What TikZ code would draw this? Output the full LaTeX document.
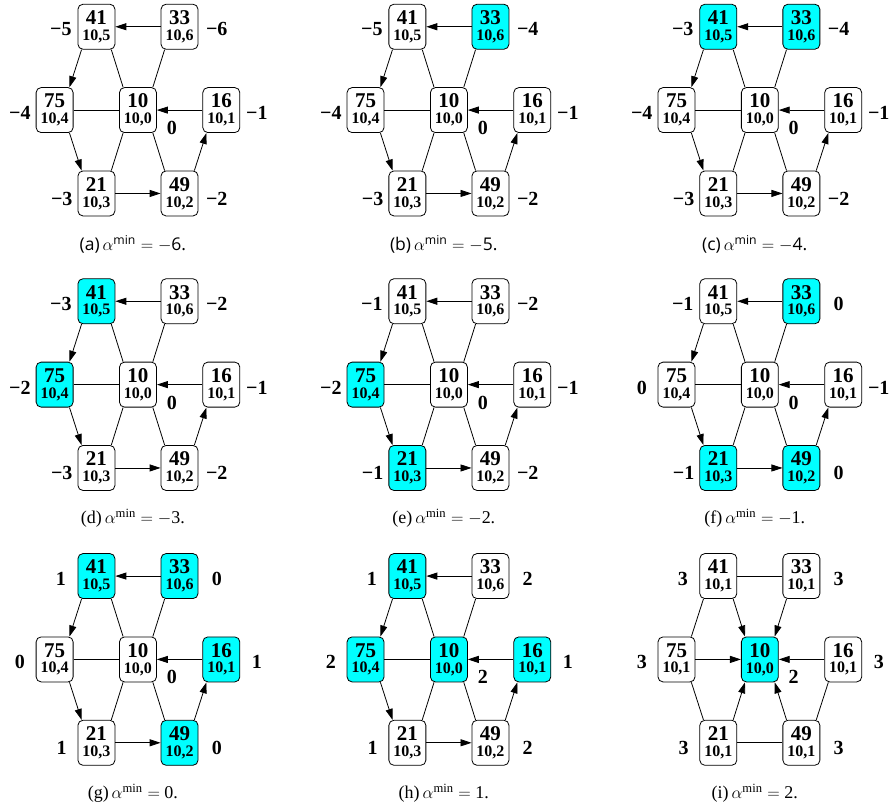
\documentclass[tikz,border=0pt]{standalone}
\usepackage{amsmath}
\usepackage{fontspec}
\newfontfamily\nodefont{Liberation Serif}
\newfontfamily\capsans{Open Sans}
\usepackage{tikz}
\usetikzlibrary{arrows.meta}
\definecolor{hexcyan}{RGB}{0,255,255}

\tikzset{
 hexbox/.style={draw,rounded corners=5pt,minimum width=37pt,minimum height=45pt,inner sep=0pt,
  align=center,line width=0.8pt,font=\nodefont\bfseries\fontsize{16}{15.7}\selectfont},
 vlab/.style={inner sep=0pt,font=\nodefont\bfseries\fontsize{20}{20}\selectfont},
 link/.style={line width=0.8pt},
 flow/.style={link,-{Triangle[length=11pt,width=7pt]}},
 capsf/.style={inner sep=0pt,font=\capsans\fontsize{17.5}{17.5}\selectfont},
 caprm/.style={inner sep=0pt,font=\nodefont\fontsize{18}{18}\selectfont},
 % hexagon places
 at41/.style={shift={(-1.46,2.93)}}, at33/.style={shift={(1.46,2.93)}},
 at75/.style={shift={(-2.93,0)}}, at10/.style={}, at16/.style={shift={(2.93,0)}},
 at21/.style={shift={(-1.46,-2.93)}}, at49/.style={shift={(1.46,-2.93)}},
 % value labels
 lb41/.style={shift={(-2.71,2.84)}}, lb33/.style={shift={(2.77,2.84)}},
 lb75/.style={shift={(-4.15,-0.10)}}, lb10/.style={shift={(1.19,-0.63)}}, lb16/.style={shift={(4.18,-0.10)}},
 lb21/.style={shift={(-2.68,-3.11)}}, lb49/.style={shift={(2.77,-3.11)}},
}

\newcommand{\hexnodes}[1]{%
 \foreach \n/\s/\v/\c in {#1}{
  \node[hexbox,fill=\c,at\n] (n\n) at (0,0) {{\fontsize{21}{15.7}\selectfont\n}\\10,\s};
  \node[vlab,lb\n] (v\n) at (0,0) {\v};
 }}
\newcommand{\hexedges}{%
 \draw[flow] (n33) -- (n41);
 \draw[flow] (n41.-123) -- (n75.57);
 \draw[flow] (n75.-57) -- (n21.123);
 \draw[flow] (n21) -- (n49);
 \draw[flow] (n49.57) -- (n16.-123);
 \draw[flow] (n16) -- (n10);
 \draw[link] (n41.-57) -- (n10.123);
 \draw[link] (n33.-123) -- (n10.57);
 \draw[link] (n75) -- (n10);
 \draw[link] (n21.57) -- (n10.-123);
 \draw[link] (n49.123) -- (n10.-57);
}

\begin{document}
\begin{tikzpicture}
\useasboundingbox (0,0) rectangle (31.25,-28.30);
% ---------- panel (a)
\begin{scope}[shift={(4.85,-3.87)}]
\hexnodes{41/5/−5/white,33/6/−6/white,75/4/−4/white,10/0/0/white,16/1/−1/white,21/3/−3/white,49/2/−2/white}
\hexedges
\node[capsf] (capa) at (-0.18,-4.71) {(a)\,$\alpha^{\text{min}}=-$6.};
\end{scope}
% ---------- panel (b)
\begin{scope}[shift={(15.78,-3.87)}]
\hexnodes{41/5/−5/white,33/6/−4/hexcyan,75/4/−4/white,10/0/0/white,16/1/−1/white,21/3/−3/white,49/2/−2/white}
\hexedges
\node[capsf] (capb) at (-0.18,-4.71) {(b)\,$\alpha^{\text{min}}=-$5.};
\end{scope}
% ---------- panel (c)
\begin{scope}[shift={(26.71,-3.87)}]
\hexnodes{41/5/−3/hexcyan,33/6/−4/hexcyan,75/4/−4/white,10/0/0/white,16/1/−1/white,21/3/−3/white,49/2/−2/white}
\hexedges
\node[capsf] (capc) at (-0.18,-4.71) {(c)\,$\alpha^{\text{min}}=-$4.};
\end{scope}
% ---------- panel (d)
\begin{scope}[shift={(4.85,-13.52)}]
\hexnodes{41/5/−3/hexcyan,33/6/−2/white,75/4/−2/hexcyan,10/0/0/white,16/1/−1/white,21/3/−3/white,49/2/−2/white}
\hexedges
\node[caprm] (capd) at (-0.18,-4.71) {(d)\,$\alpha^{\text{min}}=-$3.};
\end{scope}
% ---------- panel (e)
\begin{scope}[shift={(15.78,-13.52)}]
\hexnodes{41/5/−1/white,33/6/−2/white,75/4/−2/hexcyan,10/0/0/white,16/1/−1/white,21/3/−1/hexcyan,49/2/−2/white}
\hexedges
\node[caprm] (cape) at (-0.18,-4.71) {(e)\,$\alpha^{\text{min}}=-$2.};
\end{scope}
% ---------- panel (f)
\begin{scope}[shift={(26.71,-13.52)}]
\hexnodes{41/5/−1/white,33/6/0/hexcyan,75/4/0/white,10/0/0/white,16/1/−1/white,21/3/−1/hexcyan,49/2/0/hexcyan}
\hexedges
\node[caprm] (capf) at (-0.18,-4.71) {(f)\,$\alpha^{\text{min}}=-$1.};
\end{scope}
% ---------- panel (g)
\begin{scope}[shift={(4.85,-23.18)}]
\hexnodes{41/5/1/hexcyan,33/6/0/hexcyan,75/4/0/white,10/0/0/white,16/1/1/hexcyan,21/3/1/white,49/2/0/hexcyan}
\hexedges
\node[caprm] (capg) at (-0.18,-4.71) {(g)\,$\alpha^{\text{min}}=$ 0.};
\end{scope}
% ---------- panel (h)
\begin{scope}[shift={(15.78,-23.18)}]
\hexnodes{41/5/1/hexcyan,33/6/2/white,75/4/2/hexcyan,10/0/2/hexcyan,16/1/1/hexcyan,21/3/1/white,49/2/2/white}
\hexedges
\node[caprm] (caph) at (-0.18,-4.71) {(h)\,$\alpha^{\text{min}}=$ 1.};
\end{scope}
% ---------- panel (i): everything flows into 10
\begin{scope}[shift={(26.71,-23.18)}]
\hexnodes{41/1/3/white,33/1/3/white,75/1/3/white,10/0/2/hexcyan,16/1/3/white,21/1/3/white,49/1/3/white}
\draw[link] (n41) -- (n33);
\draw[flow] (n41.-57) -- (n10.123);
\draw[flow] (n33.-123) -- (n10.57);
\draw[flow] (n75) -- (n10);
\draw[flow] (n16) -- (n10);
\draw[flow] (n21.57) -- (n10.-123);
\draw[flow] (n49.123) -- (n10.-57);
\draw[link] (n41.-123) -- (n75.57);
\draw[link] (n75.-57) -- (n21.123);
\draw[link] (n21) -- (n49);
\draw[link] (n49.57) -- (n16.-123);
\node[caprm] (capi) at (-0.18,-4.71) {(i)\,$\alpha^{\text{min}}=$ 2.};
\end{scope}
\end{tikzpicture}
\end{document}
